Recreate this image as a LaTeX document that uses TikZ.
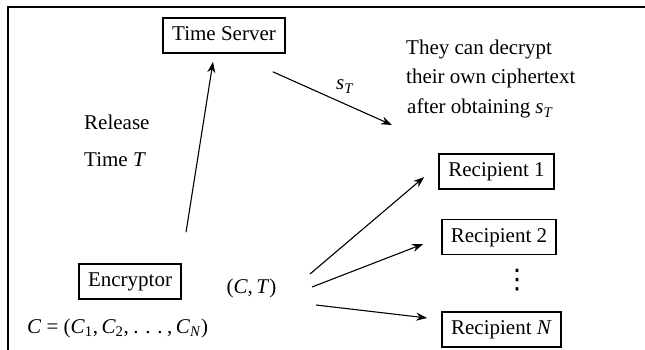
\documentclass[tikz,border=0pt]{standalone}
\usepackage{fontspec}
\setmainfont{Liberation Serif}
\newfontfamily\symbolfont{DejaVu Sans}
\usetikzlibrary{arrows.meta,calc}
% widely spaced ellipsis, as in displayed math
\newcommand\wideellipsis{\hspace{4.5pt}.\hspace{6.75pt}.\hspace{6.75pt}.\hspace{4.5pt}}
\begin{document}
\begin{tikzpicture}[x=1pt,y=-1pt,
  font=\fontsize{21}{25}\selectfont,
  box/.style={draw, line width=1.6pt, inner xsep=0pt, inner ysep=0pt,
              text height=15pt, text depth=4.5pt, minimum height=35pt},
  lbl/.style={inner sep=0pt},
  arr/.style={-{Stealth[length=11pt,width=8pt]}, line width=1.1pt},
  frame/.style={line width=1.8pt}]
\useasboundingbox (0,0) rectangle (645,350);

% frame lines along the top and left edge
\coordinate (fbl) at (8,351);
\coordinate (ftl) at (8,7);
\coordinate (ftr) at (646,7);
\draw[frame] (fbl) -- (ftl) -- (ftr);

% boxes
\node[box, minimum width=122pt] (ts)  at (224,35.5)  {Time Server};
\node[box, minimum width=102pt] (enc) at (130,281.5) {Encryptor};
\node[box, minimum width=115pt] (r1)  at (496.5,171.5) {Recipient 1};
\node[box, minimum width=114pt] (r2)  at (499,237)   {Recipient 2};
\node[box, minimum width=119pt] (rN)  at (501.5,329.5) {Recipient \textit{N}};

% vertical ellipsis between Recipient 2 and Recipient N
\node[lbl] (dots) at (517,280) {\symbolfont\fontsize{27}{30}\selectfont ⋮};

% labels
\node[lbl, anchor=base west] (rel)  at (84,130)  {Release};
\node[lbl, anchor=base west] (relT) at (84,166)  {Time \textit{T}};
\node[lbl, anchor=base] (sT) at (345,90) {\textit{s}\textsubscript{\textit{T}}};
\node[lbl, anchor=base west] (note1) at (406,55)  {They can decrypt};
\node[lbl, anchor=base west] (note2) at (406,84)  {their own ciphertext};
\node[lbl, anchor=base west] (note3) at (407,114) {after obtaining \textit{s}\textsubscript{\textit{T}}};
\node[lbl, anchor=base] (ct) at (251.5,293) {(\textit{C},\,\textit{T})};
\node[lbl, anchor=base west] (cdef) at (27,333)
  {\textit{C} = (\textit{C}\textsubscript{1},\,\textit{C}\textsubscript{2},\wideellipsis,\,\textit{C}\textsubscript{\textit{N}})};

% connector end points
\coordinate (upA) at ($(enc.north)+(56,-31)$);
\coordinate (upB) at ($(ts.south)+(-11,8)$);
\coordinate (sA)  at ($(ts.south east)+(-13,18)$);
\coordinate (sB)  at (392,125);
\coordinate (f1a) at (310,274);
\coordinate (f2a) at (312,287);
\coordinate (f3a) at (316,305);
\coordinate (f1b) at ($(r1.west)+(-14,5.5)$);
\coordinate (f2b) at ($(r2.west)+(-18,7)$);
\coordinate (f3b) at ($(rN.west)+(-14,-11.5)$);

% connectors
\draw[arr] (upA) -- (upB);
\draw[arr] (sA) -- (sB);
\draw[arr] (f1a) -- (f1b);
\draw[arr] (f2a) -- (f2b);
\draw[arr] (f3a) -- (f3b);
\end{tikzpicture}
\end{document}
